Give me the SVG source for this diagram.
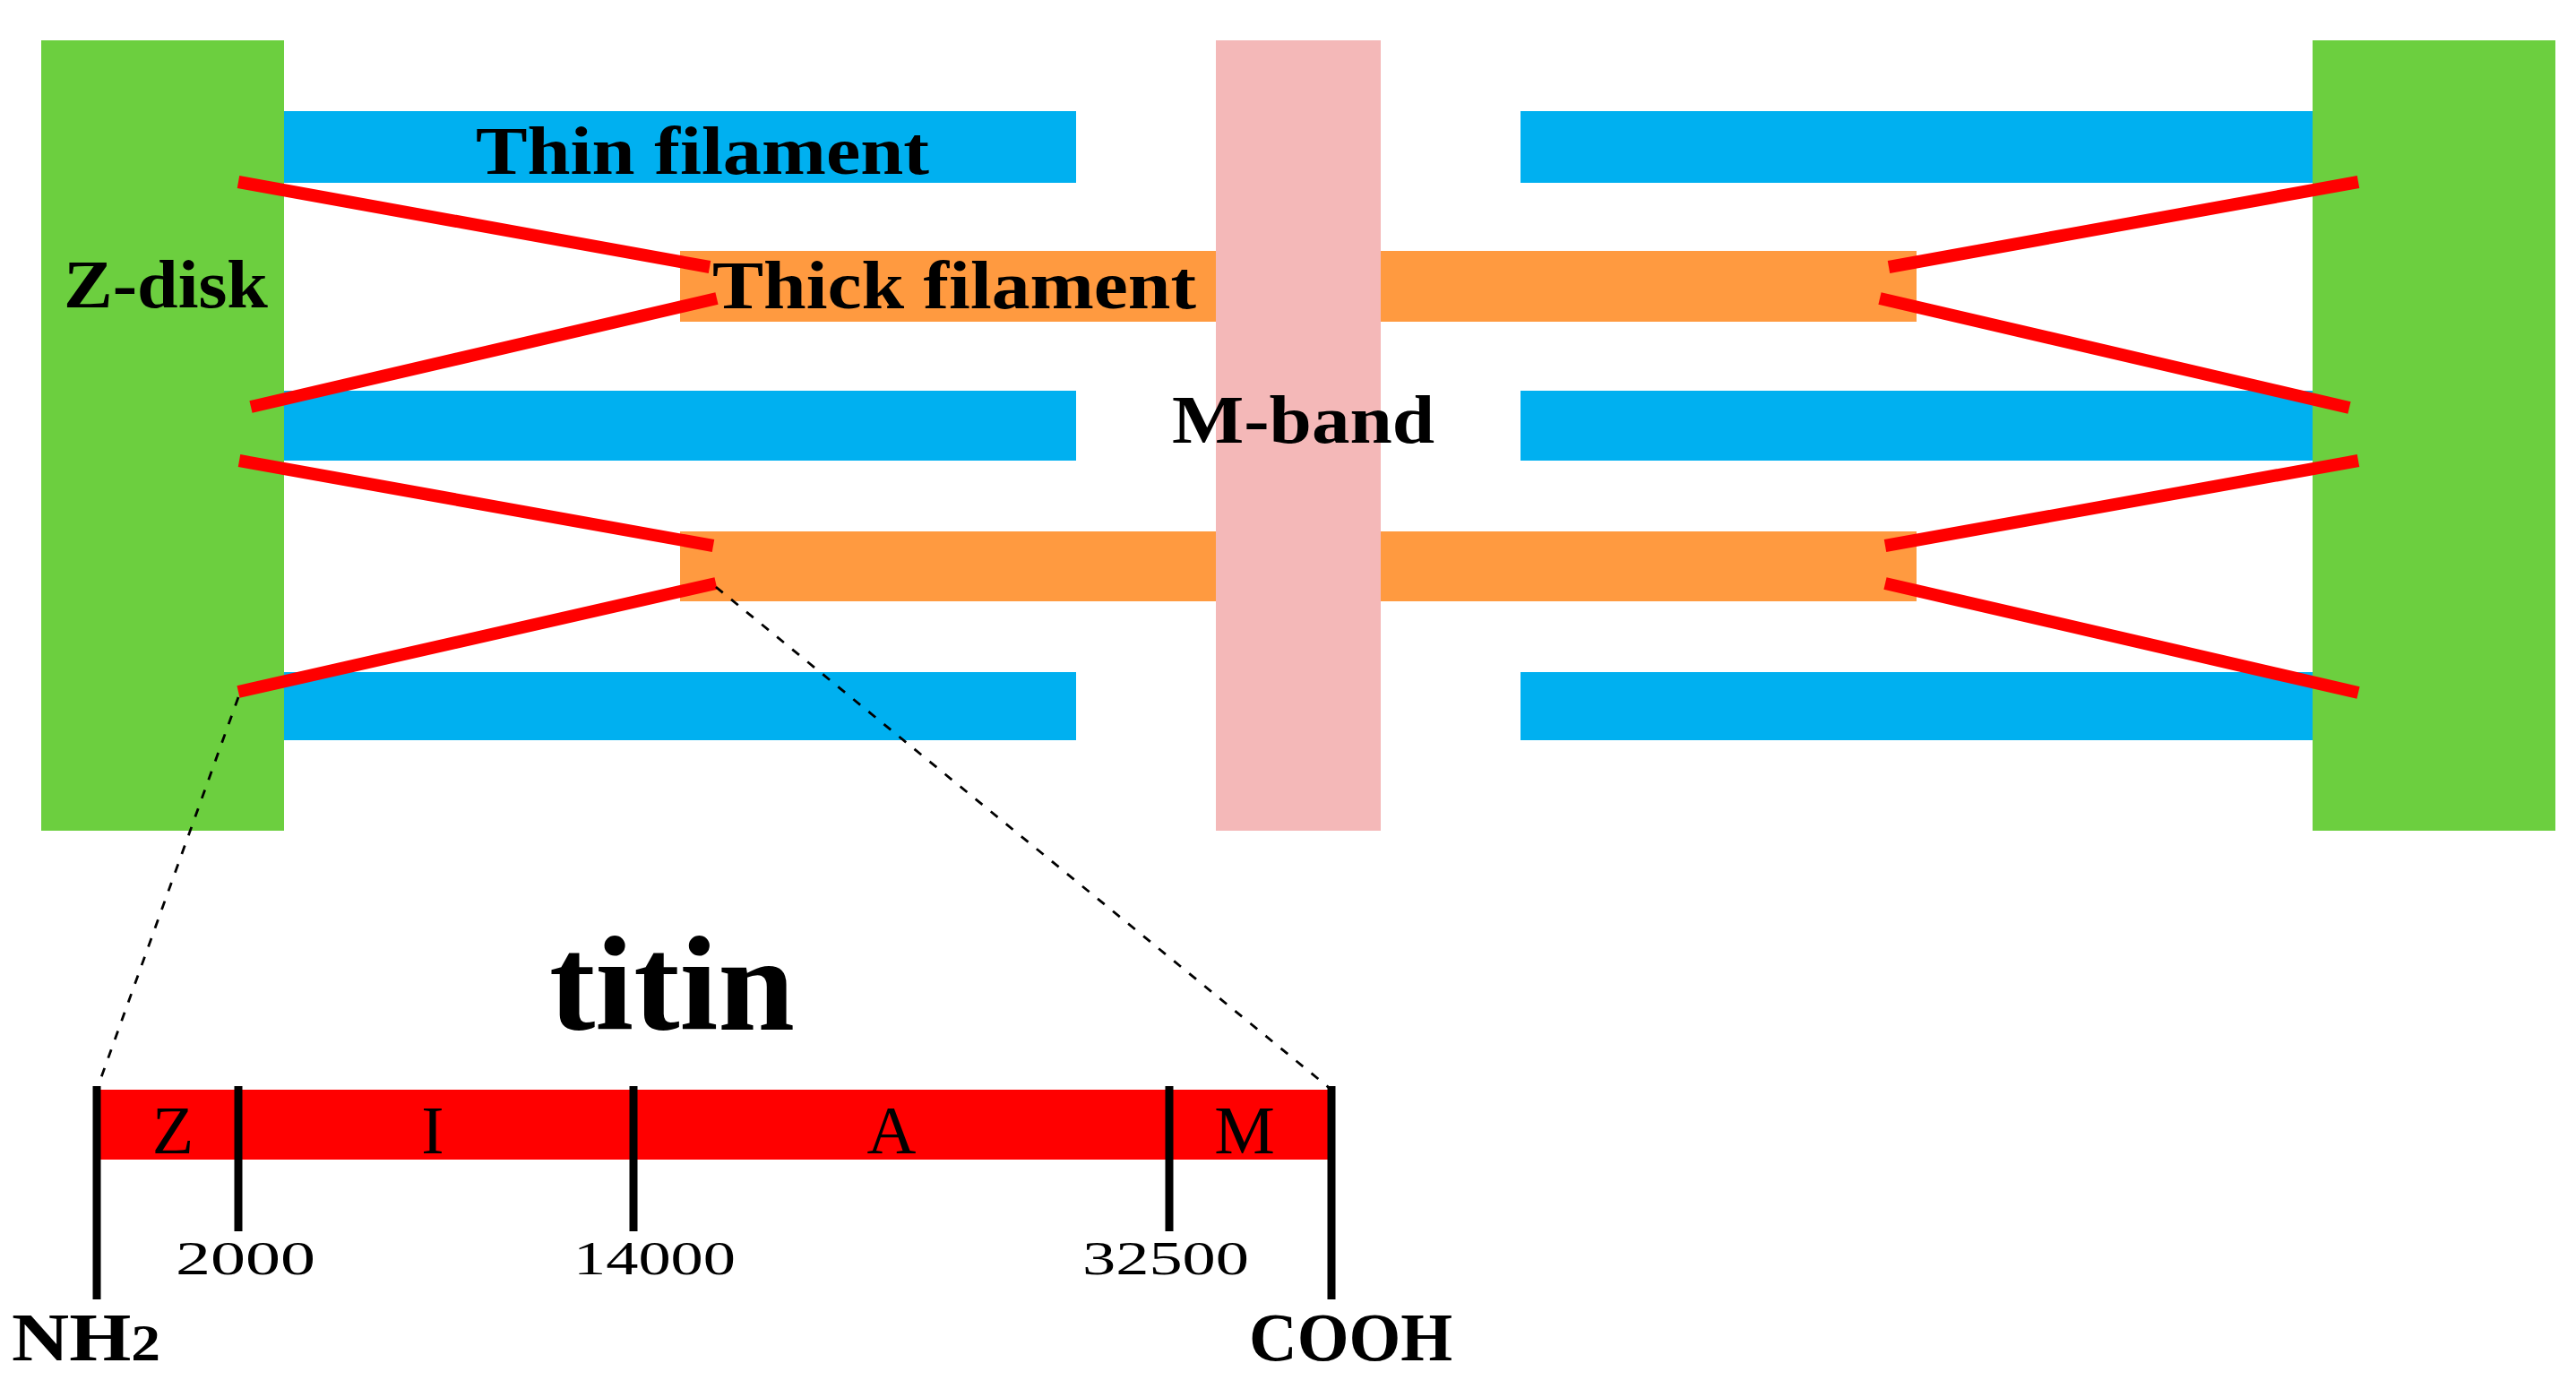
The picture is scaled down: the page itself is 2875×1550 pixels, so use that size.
<svg xmlns="http://www.w3.org/2000/svg" width="2875" height="1550" viewBox="0 0 2875 1550">
<style>
.zdisk{fill:#6CCF3F}
.thin{fill:#00B0F0}
.thick{fill:#FF9A40}
.mband{fill:#F4B8B8}
.titin{stroke:#FF0000;stroke-width:14;stroke-linecap:butt;fill:none}
.dash{stroke:#000;stroke-width:2.8;stroke-dasharray:10 12;fill:none}
.tick{stroke:#000;stroke-width:9}
.lbl{font-family:"Liberation Serif",serif;font-weight:bold;fill:#000}
.reg{font-family:"Liberation Serif",serif;fill:#000}
</style>
<rect width="2875" height="1550" fill="#fff"/>
<g id="thin-filaments">
<rect class="thin" x="317" y="124" width="884" height="80"/>
<rect class="thin" x="317" y="436" width="884" height="78"/>
<rect class="thin" x="317" y="750" width="884" height="76"/>
<rect class="thin" x="1697" y="124" width="884" height="80"/>
<rect class="thin" x="1697" y="436" width="884" height="78"/>
<rect class="thin" x="1697" y="750" width="884" height="76"/>
</g>
<g id="thick-filaments">
<rect class="thick" x="759" y="280" width="1380" height="79"/>
<rect class="thick" x="759" y="593" width="1380" height="78"/>
</g>
<g id="m-band">
<rect class="mband" x="1357" y="45" width="184" height="882"/>
</g>
<g id="z-disk-left">
<rect class="zdisk" x="46" y="45" width="271" height="882"/>
</g>
<g id="z-disk-right">
<rect class="zdisk" x="2581" y="45" width="271" height="882"/>
</g>
<g id="connectors">
<line class="titin" x1="266" y1="203" x2="792" y2="298"/>
<line class="titin" x1="280" y1="454" x2="800" y2="333"/>
<line class="titin" x1="267" y1="514" x2="796" y2="609"/>
<line class="titin" x1="266" y1="772" x2="799" y2="651"/>
<line class="titin" x1="2632" y1="203" x2="2108" y2="298"/>
<line class="titin" x1="2622" y1="455" x2="2098" y2="333"/>
<line class="titin" x1="2632" y1="514" x2="2104" y2="609"/>
<line class="titin" x1="2632" y1="773" x2="2104" y2="651"/>
<line class="dash" x1="266" y1="778" x2="108" y2="1216"/>
<line class="dash" x1="799" y1="655" x2="1486" y2="1216"/>
</g>
<g id="labels">
<text class="lbl" x="531" y="194" font-size="76" textLength="506" lengthAdjust="spacingAndGlyphs">Thin filament</text>
<text class="lbl" x="795" y="344" font-size="76" textLength="540" lengthAdjust="spacingAndGlyphs">Thick filament</text>
<text class="lbl" x="71" y="343" font-size="76" textLength="228" lengthAdjust="spacingAndGlyphs">Z-disk</text>
<text class="lbl" x="1308" y="494" font-size="76" textLength="293" lengthAdjust="spacingAndGlyphs">M-band</text>
</g>
<g id="titin-map">
<text class="lbl" x="613" y="1149" font-size="150" textLength="274" lengthAdjust="spacingAndGlyphs">titin</text>
<rect x="108" y="1216" width="1378" height="78" fill="#FF0000"/>
<line class="tick" x1="108" y1="1212" x2="108" y2="1450"/>
<line class="tick" x1="266" y1="1212" x2="266" y2="1374"/>
<line class="tick" x1="707" y1="1212" x2="707" y2="1374"/>
<line class="tick" x1="1305" y1="1212" x2="1305" y2="1374"/>
<line class="tick" x1="1486" y1="1212" x2="1486" y2="1450"/>
<text class="reg" x="193" y="1287" font-size="76" text-anchor="middle">Z</text>
<text class="reg" x="483" y="1287" font-size="76" text-anchor="middle">I</text>
<text class="reg" x="995" y="1287" font-size="76" text-anchor="middle">A</text>
<text class="reg" x="1389" y="1287" font-size="76" text-anchor="middle">M</text>
<text class="reg" x="196" y="1422" font-size="52" textLength="156" lengthAdjust="spacingAndGlyphs">2000</text>
<text class="reg" x="640" y="1422" font-size="52" textLength="181" lengthAdjust="spacingAndGlyphs">14000</text>
<text class="reg" x="1208" y="1422" font-size="52" textLength="186" lengthAdjust="spacingAndGlyphs">32500</text>
<text class="lbl" x="13" y="1518" font-size="76" textLength="166" lengthAdjust="spacingAndGlyphs">NH<tspan font-size="56">2</tspan></text>
<text class="lbl" x="1394" y="1518" font-size="76" textLength="227" lengthAdjust="spacingAndGlyphs">COOH</text>
</g>
</svg>
